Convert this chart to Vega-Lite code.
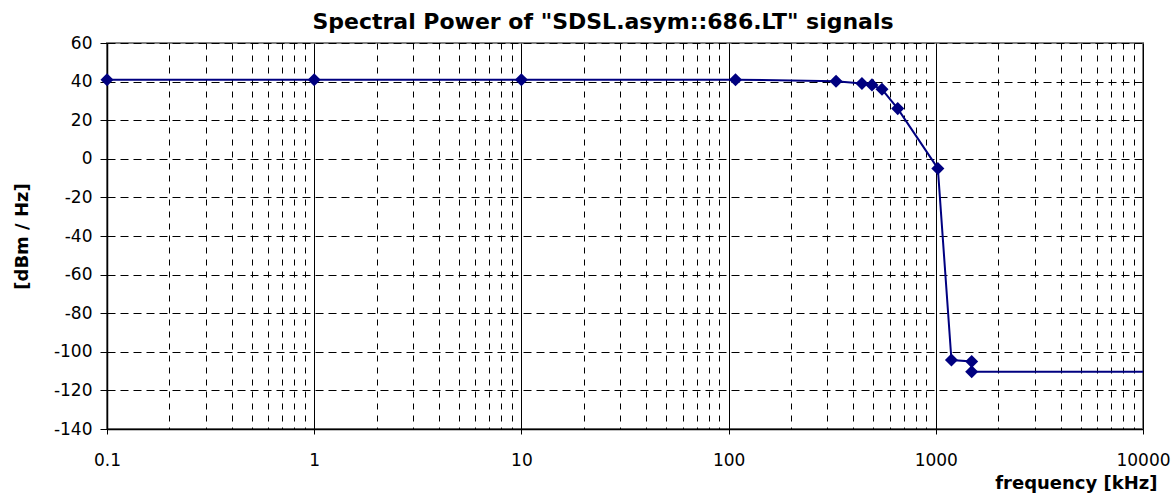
{
  "$schema": "https://vega.github.io/schema/vega-lite/v6.json",
  "width": 1036,
  "height": 386,
  "autosize": "none",
  "padding": {"left": 107, "top": 43, "right": 31, "bottom": 68},
  "background": "white",
  "config": {
    "font": "DejaVu Sans",
    "view": {"stroke": "#808080", "strokeWidth": 2},
    "axis": {"labelFont": "DejaVu Sans", "titleFont": "DejaVu Sans", "labelColor": "black", "titleColor": "black", "domainColor": "black", "tickColor": "black", "gridColor": "black", "gridOpacity": 1}
  },
  "title": {
    "text": "Spectral Power of \"SDSL.asym::686.LT\" signals",
    "font": "DejaVu Sans",
    "fontSize": 22,
    "fontWeight": "bold",
    "color": "black",
    "anchor": "middle",
    "dx": -22,
    "offset": 0
  },
  "data": {
    "values": [
      {"f": 0.1, "p": 41, "m": true, "o": 1},
      {"f": 1, "p": 41, "m": true, "o": 2},
      {"f": 10, "p": 41, "m": true, "o": 3},
      {"f": 108, "p": 41, "m": true, "o": 4},
      {"f": 330, "p": 40.2, "m": true, "o": 5},
      {"f": 440, "p": 39, "m": true, "o": 6},
      {"f": 492, "p": 38.3, "m": true, "o": 7},
      {"f": 550, "p": 36, "m": true, "o": 8},
      {"f": 655, "p": 26, "m": true, "o": 9},
      {"f": 1023, "p": -5, "m": true, "o": 10},
      {"f": 1190, "p": -104.3, "m": true, "o": 11},
      {"f": 1490, "p": -105, "m": true, "o": 12},
      {"f": 1490, "p": -110.3, "m": true, "o": 13},
      {"f": 10000, "p": -110.3, "m": false, "o": 14}
    ]
  },
  "encoding": {
    "x": {
      "field": "f",
      "type": "quantitative",
      "scale": {"type": "log", "domain": [0.1, 10000], "nice": false},
      "axis": {
        "title": "frequency [kHz]",
        "titleFontSize": 18,
        "titleFontWeight": "bold",
        "titleAlign": "right",
        "titleAnchor": "end",
        "titleBaseline": "alphabetic",
        "titleX": 1050,
        "titleY": 59,
        "values": [0.1,0.2,0.3,0.4,0.5,0.6,0.7,0.8,0.9,1,2,3,4,5,6,7,8,9,10,20,30,40,50,60,70,80,90,100,200,300,400,500,600,700,800,900,1000,2000,3000,4000,5000,6000,7000,8000,9000,10000],
        "format": "~g",
        "labelExpr": "indexof([0.1,1,10,100,1000,10000], datum.value) >= 0 ? datum.label : ''",
        "labelFontSize": 17,
        "labelPadding": 18,
        "labelFlush": false,
        "labelOverlap": false,
        "grid": true,
        "gridDash": {"condition": {"test": "indexof([0.1,1,10,100,1000,10000], datum.value) >= 0", "value": []}, "value": [6, 6]},
        "gridWidth": 1,
        "tickSize": 5,
        "tickOpacity": {"condition": {"test": "indexof([0.1,1,10,100,1000,10000], datum.value) >= 0", "value": 1}, "value": 0},
        "domainWidth": 1.5
      }
    },
    "y": {
      "field": "p",
      "type": "quantitative",
      "scale": {"domain": [-140, 60], "nice": false, "zero": false},
      "axis": {
        "title": "[dBm / Hz]",
        "titleFontSize": 18,
        "titleFontWeight": "bold",
        "titleX": -85,
        "titleY": 193,
        "titleAngle": -90,
        "titleAlign": "center",
        "titleBaseline": "middle",
        "values": [-140,-120,-100,-80,-60,-40,-20,0,20,40,60],
        "labelExpr": "toString(datum.value)",
        "labelFontSize": 17,
        "labelPadding": 8,
        "labelFlush": false,
        "grid": true,
        "gridDash": [8, 5],
        "gridWidth": 1,
        "tickSize": 7,
        "domainWidth": 1.5
      }
    }
  },
  "layer": [
    {
      "mark": {"type": "line", "color": "#000080", "strokeWidth": 2},
      "encoding": {"order": {"field": "o", "type": "quantitative"}}
    },
    {
      "transform": [{"filter": "datum.m"}],
      "mark": {"type": "point", "shape": "diamond", "filled": true, "color": "#000080", "opacity": 1, "size": 170}
    }
  ]
}
